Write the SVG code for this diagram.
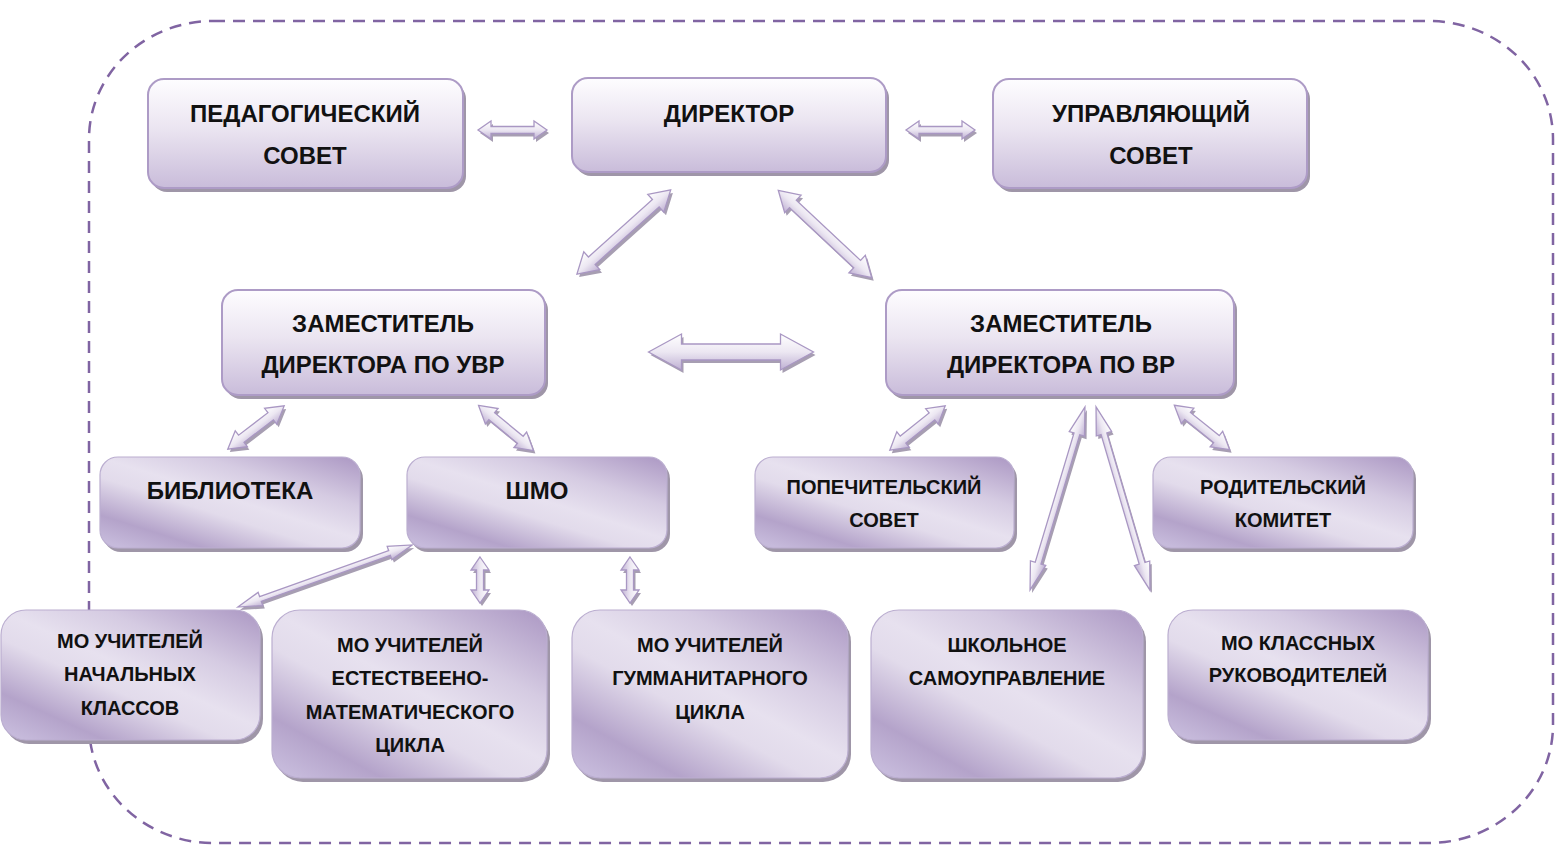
<svg xmlns="http://www.w3.org/2000/svg" xmlns:xlink="http://www.w3.org/1999/xlink" width="1555" height="846" viewBox="0 0 1555 846">
<style>
.t{font-family:"Liberation Sans",Arial,sans-serif;font-weight:bold;fill:#111;text-anchor:middle}
.big{font-size:24px}
.sm{font-size:20px}
.boxA{fill:url(#gA);stroke:#ad9bc6;stroke-width:2}
.boxB{fill:url(#gB);stroke:#bbaed0;stroke-width:1.2}
.shd{fill:#9f96a8}
.ar{fill:url(#gArr);stroke:#a997c3;stroke-width:1.3}
.ars{fill:#a79eb2}
</style>
<defs>
<linearGradient id="gA" x1="0" y1="0" x2="0" y2="1">
<stop offset="0" stop-color="#fefdff"/>
<stop offset="0.45" stop-color="#ebe5f1"/>
<stop offset="1" stop-color="#c9bcda"/>
</linearGradient>
<linearGradient id="gB" x1="1" y1="0" x2="0.1" y2="1">
<stop offset="0" stop-color="#ab97c3"/>
<stop offset="0.3" stop-color="#d5cbe2"/>
<stop offset="0.5" stop-color="#e7e1ef"/>
<stop offset="0.62" stop-color="#e2dbeb"/>
<stop offset="0.85" stop-color="#b4a3ca"/>
<stop offset="1" stop-color="#c6badb"/>
</linearGradient>
<linearGradient id="gArr" x1="0" y1="0" x2="0" y2="1">
<stop offset="0" stop-color="#ffffff"/>
<stop offset="0.5" stop-color="#ece7f2"/>
<stop offset="1" stop-color="#bfb0d3"/>
</linearGradient>
<path id="aS" d="M-34.5,0 L-21.5,-9 L-21.5,-3.5 L21.5,-3.5 L21.5,-9 L34.5,0 L21.5,9 L21.5,3.5 L-21.5,3.5 L-21.5,9Z"/>
<path id="aD1" d="M-63,0 L-43,-12 L-43,-5 L43,-5 L43,-12 L63,0 L43,12 L43,5 L-43,5 L-43,12Z"/>
<path id="aD2" d="M-64,0 L-44,-12 L-44,-5 L44,-5 L44,-12 L64,0 L44,12 L44,5 L-44,5 L-44,12Z"/>
<path id="aH" d="M-82.5,0 L-49.5,-18 L-49.5,-8 L49.5,-8 L49.5,-18 L82.5,0 L49.5,18 L49.5,8 L-49.5,8 L-49.5,18Z"/>
<path id="aM" d="M-35.5,0 L-18.5,-10 L-18.5,-4.5 L18.5,-4.5 L18.5,-10 L35.5,0 L18.5,10 L18.5,4.5 L-18.5,4.5 L-18.5,10Z"/>
<path id="aT" d="M-92.5,0 L-68.5,-7 L-68.5,-2.5 L68.5,-2.5 L68.5,-7 L92.5,0 L68.5,7 L68.5,2.5 L-68.5,2.5 L-68.5,7Z"/>
<path id="aV" d="M-23,0 L-10,-9 L-10,-3.5 L10,-3.5 L10,-9 L23,0 L10,9 L10,3.5 L-10,3.5 L-10,9Z"/>
<path id="aL" d="M-95.5,0 L-67.5,-8 L-67.5,-3 L67.5,-3 L67.5,-8 L95.5,0 L67.5,8 L67.5,3 L-67.5,3 L-67.5,8Z"/>
</defs>
<rect width="1555" height="846" fill="#ffffff"/>
<rect id="border" x="89" y="21" width="1464" height="822" rx="124" ry="118" fill="none" stroke="#8064a2" stroke-width="2.5" stroke-dasharray="12 8"/>

<g id="connectors">
<use href="#aS" class="ars" transform="translate(514.5,133)"/>
<use href="#aS" class="ar" transform="translate(512.5,130)"/>
<use href="#aS" class="ars" transform="translate(942.5,133)"/>
<use href="#aS" class="ar" transform="translate(940.5,130)"/>
<use href="#aD1" class="ars" transform="translate(626,235) rotate(-41.9)"/>
<use href="#aD1" class="ar" transform="translate(623.8,232) rotate(-41.9)"/>
<use href="#aD2" class="ars" transform="translate(827,237) rotate(43.1)"/>
<use href="#aD2" class="ar" transform="translate(825,234) rotate(43.1)"/>
<use href="#aH" class="ars" transform="translate(733,355)"/>
<use href="#aH" class="ar" transform="translate(731,352)"/>
<use href="#aM" class="ars" transform="translate(258,430.5) rotate(-37.5)"/>
<use href="#aM" class="ar" transform="translate(256,427.5) rotate(-37.5)"/>
<use href="#aM" class="ars" transform="translate(508,431) rotate(39.4)"/>
<use href="#aM" class="ar" transform="translate(506,428) rotate(39.4)"/>
<use href="#aT" class="ars" transform="translate(327,579) rotate(-19.6)"/>
<use href="#aT" class="ar" transform="translate(325,576) rotate(-19.6)"/>
<use href="#aV" class="ars" transform="translate(482,583) rotate(90)"/>
<use href="#aV" class="ar" transform="translate(480,580) rotate(90)"/>
<use href="#aV" class="ars" transform="translate(632,583) rotate(90)"/>
<use href="#aV" class="ar" transform="translate(630,580) rotate(90)"/>
<use href="#aM" class="ars" transform="translate(919.5,431) rotate(-38.7)"/>
<use href="#aM" class="ar" transform="translate(917.5,428) rotate(-38.7)"/>
<use href="#aM" class="ars" transform="translate(1204,430.5) rotate(38.8)"/>
<use href="#aM" class="ar" transform="translate(1202,427.5) rotate(38.8)"/>
<use href="#aL" class="ars" transform="translate(1059.5,501.5) rotate(-73.3)"/>
<use href="#aL" class="ar" transform="translate(1057.5,498.5) rotate(-73.3)"/>
<use href="#aL" class="ars" transform="translate(1125,501.5) rotate(73.6)"/>
<use href="#aL" class="ar" transform="translate(1123,498.5) rotate(73.6)"/>
</g>

<g id="ped">
<rect x="151" y="83" width="315" height="109" rx="16" class="shd"/>
<rect x="148" y="79" width="315" height="109" rx="16" class="boxA"/>
<text class="t big" x="305" y="121.5">ПЕДАГОГИЧЕСКИЙ</text>
<text class="t big" x="305" y="163.5">СОВЕТ</text>
</g>
<g id="dir">
<rect x="575" y="82" width="314" height="94" rx="16" class="shd"/>
<rect x="572" y="78" width="314" height="94" rx="16" class="boxA"/>
<text class="t big" x="729" y="121.5">ДИРЕКТОР</text>
</g>
<g id="upr">
<rect x="996" y="83" width="314" height="109" rx="16" class="shd"/>
<rect x="993" y="79" width="314" height="109" rx="16" class="boxA"/>
<text class="t big" x="1151" y="121.5">УПРАВЛЯЮЩИЙ</text>
<text class="t big" x="1151" y="163.5">СОВЕТ</text>
</g>
<g id="zuvr">
<rect x="225" y="294" width="323" height="105" rx="16" class="shd"/>
<rect x="222" y="290" width="323" height="105" rx="16" class="boxA"/>
<text class="t big" x="383" y="331.5">ЗАМЕСТИТЕЛЬ</text>
<text class="t big" x="383" y="372.5">ДИРЕКТОРА ПО УВР</text>
</g>
<g id="zvr">
<rect x="889" y="294" width="348" height="105" rx="16" class="shd"/>
<rect x="886" y="290" width="348" height="105" rx="16" class="boxA"/>
<text class="t big" x="1061" y="331.5">ЗАМЕСТИТЕЛЬ</text>
<text class="t big" x="1061" y="372.5">ДИРЕКТОРА ПО ВР</text>
</g>
<g id="bib">
<rect x="103" y="461" width="260" height="91" rx="18" class="shd"/>
<rect x="100" y="457" width="260" height="91" rx="18" class="boxB"/>
<text class="t big" x="230" y="498.5">БИБЛИОТЕКА</text>
</g>
<g id="shmo">
<rect x="410" y="461" width="260" height="91" rx="18" class="shd"/>
<rect x="407" y="457" width="260" height="91" rx="18" class="boxB"/>
<text class="t big" x="537" y="498.5">ШМО</text>
</g>
<g id="pop">
<rect x="758" y="461" width="259" height="91" rx="18" class="shd"/>
<rect x="755" y="457" width="259" height="91" rx="18" class="boxB"/>
<text class="t sm" x="884" y="494">ПОПЕЧИТЕЛЬСКИЙ</text>
<text class="t sm" x="884" y="527">СОВЕТ</text>
</g>
<g id="rod">
<rect x="1156" y="461" width="260" height="91" rx="18" class="shd"/>
<rect x="1153" y="457" width="260" height="91" rx="18" class="boxB"/>
<text class="t sm" x="1283" y="494">РОДИТЕЛЬСКИЙ</text>
<text class="t sm" x="1283" y="527">КОМИТЕТ</text>
</g>
<g id="mon">
<rect x="4" y="614" width="259" height="130" rx="25" class="shd"/>
<rect x="1" y="610" width="259" height="130" rx="25" class="boxB"/>
<text class="t sm" x="130" y="648">МО УЧИТЕЛЕЙ</text>
<text class="t sm" x="130" y="681">НАЧАЛЬНЫХ</text>
<text class="t sm" x="130" y="715">КЛАССОВ</text>
</g>
<g id="moe">
<rect x="275" y="614" width="275" height="168" rx="28" class="shd"/>
<rect x="272" y="610" width="275" height="168" rx="28" class="boxB"/>
<text class="t sm" x="410" y="652">МО УЧИТЕЛЕЙ</text>
<text class="t sm" x="410" y="685">ЕСТЕСТВЕЕНО-</text>
<text class="t sm" x="410" y="719">МАТЕМАТИЧЕСКОГО</text>
<text class="t sm" x="410" y="752">ЦИКЛА</text>
</g>
<g id="mog">
<rect x="575" y="614" width="276" height="168" rx="28" class="shd"/>
<rect x="572" y="610" width="276" height="168" rx="28" class="boxB"/>
<text class="t sm" x="710" y="652">МО УЧИТЕЛЕЙ</text>
<text class="t sm" x="710" y="685">ГУММАНИТАРНОГО</text>
<text class="t sm" x="710" y="719">ЦИКЛА</text>
</g>
<g id="shk">
<rect x="874" y="614" width="272" height="168" rx="28" class="shd"/>
<rect x="871" y="610" width="272" height="168" rx="28" class="boxB"/>
<text class="t sm" x="1007" y="652">ШКОЛЬНОЕ</text>
<text class="t sm" x="1007" y="685">САМОУПРАВЛЕНИЕ</text>
</g>
<g id="mok">
<rect x="1171" y="614" width="260" height="130" rx="25" class="shd"/>
<rect x="1168" y="610" width="260" height="130" rx="25" class="boxB"/>
<text class="t sm" x="1298" y="650">МО КЛАССНЫХ</text>
<text class="t sm" x="1298" y="682">РУКОВОДИТЕЛЕЙ</text>
</g>
</svg>
